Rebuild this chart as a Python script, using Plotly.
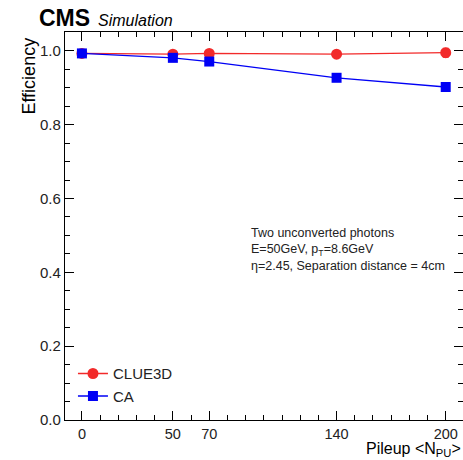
import plotly.graph_objects as go

# Pileup scenarios and reconstruction efficiency per algorithm
pileup = [0, 50, 70, 140, 200]
clue3d_eff = [0.993, 0.991, 0.993, 0.991, 0.995]
clue3d_err = [0.003, 0.004, 0.005, 0.007, 0.012]
ca_eff = [0.993, 0.981, 0.971, 0.927, 0.902]
ca_err = [0.003, 0.004, 0.005, 0.007, 0.009]

x_ticks = [0, 50, 70, 140, 200]
y_ticks = [0.0, 0.2, 0.4, 0.6, 0.8, 1.0]

FONT = "Liberation Sans, Arial, Helvetica, sans-serif"
RED = "#f22a2a"
BLUE = "#0000f5"

fig = go.Figure()
fig.add_trace(go.Scatter(
    x=pileup, y=clue3d_eff, name="CLUE3D", mode="lines+markers",
    line=dict(color=RED, width=1.3),
    marker=dict(symbol="circle", size=11, color=RED),
    error_y=dict(type="data", array=clue3d_err, color=RED, thickness=1.2, width=3),
))
fig.add_trace(go.Scatter(
    x=pileup, y=ca_eff, name="CA", mode="lines+markers",
    line=dict(color=BLUE, width=1.3),
    marker=dict(symbol="square", size=10, color=BLUE),
    error_y=dict(type="data", array=ca_err, color=BLUE, thickness=1.2, width=3),
))

axis_common = dict(
    showgrid=False, zeroline=False, showline=True, linecolor="black",
    linewidth=1.2, mirror="allticks", ticks="inside", tickcolor="black",
)

fig.update_xaxes(
    range=[-9.3, 209.5], tickmode="array", tickvals=x_ticks,
    ticktext=[str(v) for v in x_ticks], ticklen=9, tickwidth=1,
    tickfont=dict(family=FONT, size=14.5, color="#222"),
    minor=dict(tickmode="linear", tick0=0, dtick=10, ticks="inside",
               ticklen=5, tickcolor="black", tickwidth=1),
    **axis_common,
)
fig.update_yaxes(
    range=[0, 1.051], tickmode="array", tickvals=y_ticks,
    ticktext=[f"{v:.1f}" for v in y_ticks], ticklen=9, tickwidth=1,
    tickfont=dict(family=FONT, size=15, color="#222"),
    minor=dict(tickmode="linear", tick0=0, dtick=0.05, ticks="inside",
               ticklen=5, tickcolor="black", tickwidth=1),
    **axis_common,
)

fig.update_layout(
    width=463, height=460,
    margin=dict(l=65, r=0, t=32, b=40),
    paper_bgcolor="white", plot_bgcolor="white",
    font=dict(family=FONT, color="#111"),
    showlegend=True,
    legend=dict(
        x=0.02, y=0.02, xanchor="left", yanchor="bottom",
        bgcolor="rgba(0,0,0,0)", font=dict(family=FONT, size=15, color="#222"),
        itemwidth=30, tracegroupgap=2,
    ),
    annotations=[
        dict(text="<b>CMS</b>", xref="paper", yref="paper", x=-0.07, y=0.998,
             xanchor="left", yanchor="bottom", showarrow=False,
             font=dict(family=FONT, size=23, color="black")),
        dict(text="<i>Simulation</i>", xref="paper", yref="paper", x=0.077, y=1.003,
             xanchor="left", yanchor="bottom", showarrow=False,
             font=dict(family=FONT, size=16, color="black")),
        dict(text="Two unconverted photons<br>E=50GeV, p<sub>T</sub>=8.6GeV<br>"
                  "η=2.45, Separation distance = 4cm",
             xref="paper", yref="paper", x=0.462, y=0.505, xanchor="left",
             yanchor="top", align="left", showarrow=False,
             font=dict(family=FONT, size=12.5, color="#222")),
        dict(text="Efficiency", xref="paper", yref="paper", x=-0.09, y=0.99,
             xanchor="center", yanchor="top", textangle=-90, showarrow=False,
             font=dict(family=FONT, size=18, color="black")),
        dict(text="Pileup &lt;N<sub>PU</sub>&gt;", xref="paper", yref="paper", x=0.998,
             y=-40 / 388, xanchor="right", yanchor="bottom", showarrow=False,
             borderpad=0, font=dict(family=FONT, size=16, color="black")),
    ],
)

fig.write_html("out.html")
